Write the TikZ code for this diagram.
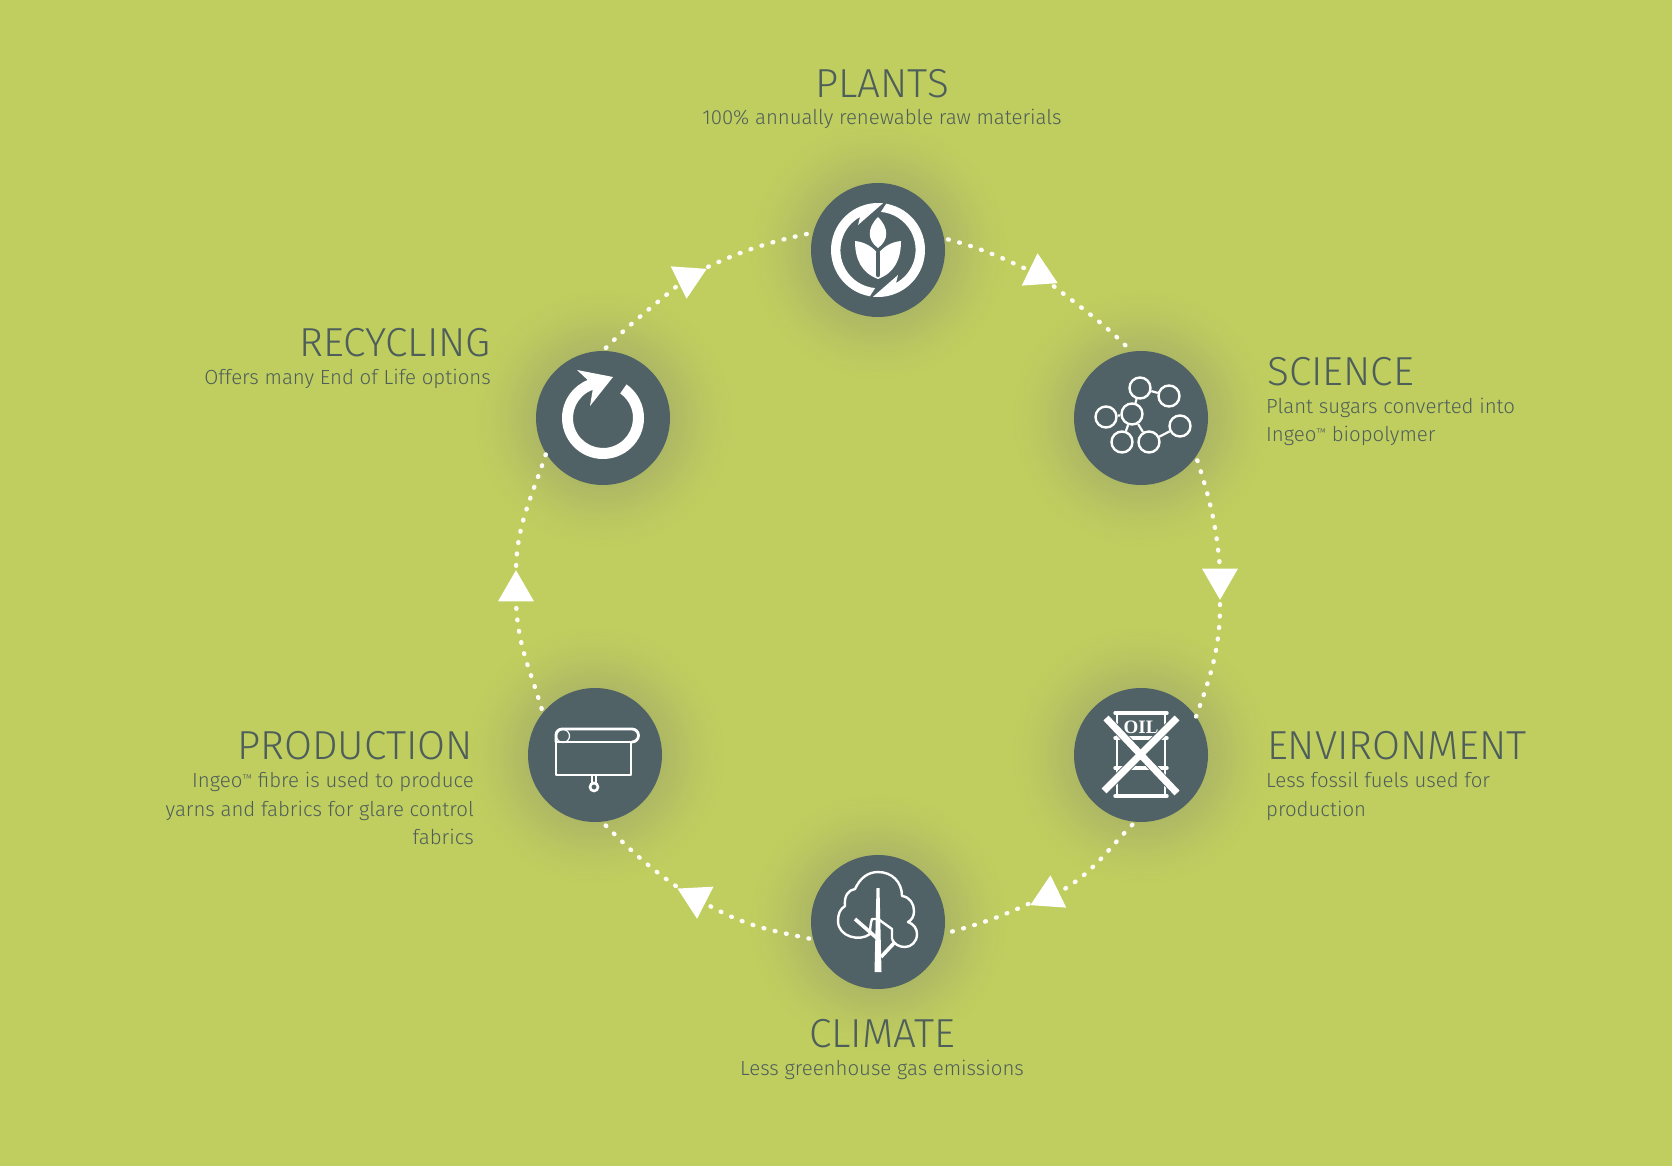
\documentclass[tikz,border=0pt]{standalone}
\usepackage{fontspec}
\setmainfont{Fira Sans}[UprightFont=* Light]
\newfontfamily\oilfont{Liberation Serif}[Scale=1]
\usetikzlibrary{arrows,shapes}
\definecolor{meadow}{HTML}{C0CE5F}
\definecolor{slate}{HTML}{506266}
\definecolor{inktext}{HTML}{4E5E5A}
\definecolor{dusk}{HTML}{AEB864}
\newcommand{\tmsign}{\raisebox{0.45ex}{\scalebox{.55}{™}}}
\pgfdeclareradialshading{halo}{\pgfpoint{0bp}{0bp}}{color(0bp)=(dusk); color(12.5bp)=(dusk); color(15.5bp)=(dusk!72!meadow); color(18.5bp)=(dusk!38!meadow); color(22bp)=(dusk!12!meadow); color(25bp)=(meadow); color(50bp)=(meadow)}
\tikzstyle{hub}=[circle,fill=slate,minimum size=134pt,inner sep=0pt]
\tikzstyle{pointer}=[regular polygon,regular polygon sides=3,fill=white,minimum size=41.6pt,inner sep=0pt]
\tikzstyle{dot edge}=[draw=white!94!meadow,line width=4.4pt,line cap=round,dash pattern=on 0.8pt off 10.7pt,shorten <=4pt]
\tikzstyle{atom}=[circle,draw=white,line width=2.4pt,minimum size=21pt,inner sep=0pt]
\tikzstyle{bond}=[draw=white,line width=2.2pt]
\tikzstyle{line art}=[draw=white,line width=2.4pt,line join=round]
\tikzstyle{title label}=[inner sep=0pt,text=inktext,font=\fontsize{40.5}{40.5}\selectfont]
\tikzstyle{note label}=[inner sep=0pt,text=inktext,font=\fontsize{20.4}{28.5}\selectfont]
\tikzstyle{to east}=[anchor=base east,align=right]
\tikzstyle{to west}=[anchor=base west,align=left]
\tikzstyle{to mid}=[anchor=base,align=center]

\begin{document}
\begin{tikzpicture}[x=1pt,y=1pt]
    \fill[meadow] (0,0) rectangle (1672,-1166);
    % First the glow behind the hubs, then the hubs
    \foreach \pos in {(878,-250), (1141,-418), (1141,-755), (878,-922), (595,-755), (603,-418)}
        \shade[shading=halo] \pos circle (132);
    \foreach \pos/\name in {{(878,-250)/Plants}, {(1141,-418)/Science}, {(1141,-755)/Environment}, {(878,-922)/Climate}, {(595,-755)/Production}, {(603,-418)/Recycling}}
        \node[hub] (\name) at \pos {};
    % Triangles on the ring
    \foreach \pos/\name/\turn in {{(1039,-274)/TriA/4}, {(1220,-579)/TriB/180}, {(1049,-896)/TriC/-4}, {(696,-898)/TriD/183}, {(516,-591)/TriE/0}, {(688,-278)/TriF/176}}
        \node[pointer,shape border rotate=\turn] (\name) at \pos {};
    % Connect hubs and triangles with dotted arcs
    \foreach \source/\dest/\outa/\ina in {Plants.10/TriA.160/-15/155, TriA.-40/Science.98/-38/135, Science.-35/TriB.90/-72/95, TriB.-90/Environment.35/-90/70, Environment.-95/TriC.20/-135/30, TriC.200/Climate.-10/205/15, Climate.195/TriD.-30/168/-30, TriD.150/Production.-84/145/-45, Production.141/TriE.-90/106/-88, TriE.90/Recycling.212/88/-108, Recycling.90/TriF.215/45/220, TriF.30/Plants.165/25/192}
        \path[dot edge] (\source) to[out=\outa,in=\ina] (\dest);

    % Plants icon
    \begin{scope}[shift={(Plants)}]
        \foreach \turn in {0,180}
            \fill[white,rotate=\turn] (80:47) arc (80:-96:47) -- (20,-25) -- (18,-33) arc (-61:85:38) -- cycle;
        \fill[white] (0,33) .. controls (11,22) and (11,10) .. (0,2) .. controls (-11,10) and (-11,22) .. (0,33);
        \fill[white] (-23,9) .. controls (-13,8) and (-5,3) .. (0,-4) .. controls (5,3) and (13,8) .. (23,9) .. controls (23,-10) and (16,-23) .. (0,-29) .. controls (-16,-23) and (-23,-10) .. (-23,9);
        \draw[slate,line width=4.5pt,line cap=round] (0,-3) -- (0,-25);
    \end{scope}

    % Science icon
    \foreach \pos/\name in {{(1140,-388)/AtomA}, {(1169,-396)/AtomB}, {(1132,-414)/AtomC}, {(1106,-417)/AtomD}, {(1122,-442)/AtomE}, {(1149,-442)/AtomF}, {(1180,-426)/AtomG}}
        \node[atom] (\name) at \pos {};
    \foreach \source/\dest in {AtomA/AtomB, AtomA/AtomC, AtomC/AtomD, AtomC/AtomE, AtomC/AtomF, AtomF/AtomG}
        \path[bond] (\source) -- (\dest);

    % Environment icon
    \begin{scope}[shift={(Environment)}]
        \draw[white,line width=2.6pt] (-24,42) -- (-24,-41) (24,42) -- (24,-41);
        \draw[white,line width=3.4pt,line cap=round] (-26,42) -- (26,42) (-26,-41) -- (26,-41) (-26,17) -- (26,17) (-26,-13) -- (26,-13);
        \node[inner sep=0pt,text=white,font=\oilfont\bfseries\fontsize{19}{19}\selectfont] (OilMark) at (0,28) {OIL};
        \draw[slate,line width=8.6pt] (-35,37) -- (36,-38) (36,37) -- (-37,-36);
        \draw[white,line width=7pt] (-35,37) -- (36,-38) (36,37) -- (-37,-36);
    \end{scope}

    % Climate icon
    \begin{scope}[shift={(Climate)}]
        \draw[line art] (-8,-12) .. controls (-18,-20) and (-40,-15) .. (-40,1) .. controls (-40,8) and (-38,13) .. (-33,16) .. controls (-34,26) and (-30,32) .. (-23,33) .. controls (-18,44) and (-10,50) .. (0,50) .. controls (14,50) and (24,40) .. (24,26) .. controls (32,25) and (36,18) .. (36,11) .. controls (36,6) and (34,2) .. (30,0) .. controls (36,-2) and (39,-7) .. (39,-12) .. controls (39,-20) and (33,-25) .. (27,-25) .. controls (21,-25) and (16,-22) .. (14,-17);
        \draw[line art] (-8,-12) .. controls (-8,-5) and (-7,0) .. (-6,3) -- (0,3) -- (14,-7) -- (14,-17);
        \fill[white] (-1.5,34) -- (1.5,34) -- (3.5,-50) -- (-3.5,-50) -- cycle;
        \draw[white,line width=3.6pt] (-23,3) -- (0,-17) (3,-35) -- (17,-20);
    \end{scope}

    % Production icon
    \begin{scope}[shift={(Production)}]
        \draw[line art] (36,13) -- (36,-20) -- (-39,-20) -- (-39,20);
        \draw[line art,line width=2.8pt] (-39,13) -- (-39,20) arc (180:90:6) -- (37,26) arc (90:-90:6.5);
        \draw[white,line width=1.2pt] (-39,13) -- (37,13);
        \draw[white,line width=1.2pt] (-32,19) circle (6.5);
        \draw[white,line width=1.2pt] (-3,-20) -- (-3,-28) (1,-20) -- (1,-28);
        \draw[white,line width=2.6pt] (-1,-32) circle (4);
    \end{scope}

    % Recycling icon
    \begin{scope}[shift={(Recycling)}]
        \fill[white] (55:41) arc (55:-248:41) -- (-26,48) -- (10,41) -- (-13,12) -- (-250:30) arc (-250:55:30) -- cycle;
    \end{scope}

    % Texts
    \foreach \pos/\name/\side/\txt in {{(882,-98)/PlantsTitle/to mid/PLANTS}, {(1267,-385)/ScienceTitle/to west/SCIENCE}, {(1267,-759)/EnvironmentTitle/to west/ENVIRONMENT}, {(882,-1047)/ClimateTitle/to mid/CLIMATE}, {(473,-759)/ProductionTitle/to east/PRODUCTION}, {(491,-356)/RecyclingTitle/to east/RECYCLING}}
        \node[title label,\side] (\name) at \pos {\txt};
    \foreach \pos/\name/\side/\txt in {{(882,-125)/PlantsNote/to mid/100\% annually renewable raw materials}, {(1266,-441.5)/ScienceNote/to west/Plant sugars converted into\\Ingeo\tmsign{} biopolymer}, {(1266,-816)/EnvironmentNote/to west/Less fossil fuels used for\\production}, {(882,-1075)/ClimateNote/to mid/Less greenhouse gas emissions}, {(474,-844.5)/ProductionNote/to east/Ingeo\tmsign{} fibre is used to produce\\yarns and fabrics for glare control\\fabrics}, {(491,-384)/RecyclingNote/to east/Offers many End of Life options}}
        \node[note label,\side] (\name) at \pos {\txt};
\end{tikzpicture}
\end{document}
